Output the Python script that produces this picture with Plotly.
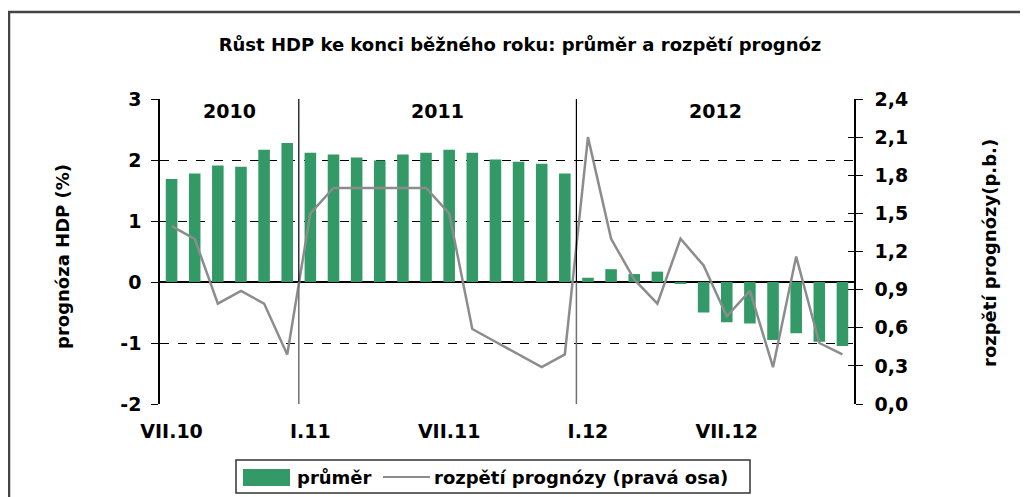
import plotly.graph_objects as go

# ---- data ----
months = list(range(30))  # VII.2010 ... XII.2012, monthly
tick_positions = [0, 6, 12, 18, 24]
tick_labels = ["VII.10", "I.11", "VII.11", "I.12", "VII.12"]
prumer = [1.69, 1.78, 1.91, 1.89, 2.17, 2.28,
          2.12, 2.09, 2.04, 1.99, 2.09, 2.12, 2.17, 2.12, 2.01, 1.97, 1.94, 1.78,
          0.07, 0.21, 0.13, 0.17, -0.03, -0.50, -0.66, -0.68, -0.95, -0.84, -0.98, -1.05]
rozpeti = [1.40, 1.30, 0.79, 0.89, 0.79, 0.39,
           1.50, 1.70, 1.70, 1.70, 1.70, 1.70, 1.50, 0.59, 0.49, 0.39, 0.29, 0.39,
           2.10, 1.30, 0.98, 0.79, 1.30, 1.09, 0.69, 0.89, 0.29, 1.16, 0.48, 0.39]
left_ticks = [3, 2, 1, 0, -1, -2]
left_tick_labels = ["3", "2", "1", "0", "-1", "-2"]
right_ticks = [0.0, 0.3, 0.6, 0.9, 1.2, 1.5, 1.8, 2.1, 2.4]
right_tick_labels = ["0,0", "0,3", "0,6", "0,9", "1,2", "1,5", "1,8", "2,1", "2,4"]
years = ["2010", "2011", "2012"]
year_centers = [2.5, 11.5, 23.5]
year_separators = [5.5, 17.5]

# page body has an 8px margin -> work in screen pixels and subtract it
OFF = 8
W, H = 1028 - OFF, 497 - OFF
SL, SR, ST, SB = 160, 854, 99, 404          # plot area in screen px
L, R, T, B = SL - OFF, SR - OFF, ST - OFF, SB - OFF
FONT = "DejaVu Sans"
GREEN = "#339966"
GRAY = "#8c8c8c"


def px(x):
    return (x - SL) / (SR - SL)


def py(y):
    return (SB - y) / (SB - ST)


fig = go.Figure()
fig.add_trace(go.Bar(x=months, y=prumer, marker=dict(color=GREEN, line=dict(width=0)),
                     width=0.5, name="průměr", yaxis="y"))
fig.add_trace(go.Scatter(x=months, y=rozpeti, mode="lines", line=dict(color=GRAY, width=2.5),
                         name="rozpětí prognózy (pravá osa)", yaxis="y2"))
fig.add_trace(go.Scatter(x=[None], y=[None], yaxis="y3", showlegend=False, hoverinfo="skip"))

shapes = []
for s in year_separators:
    shapes.append(dict(type="line", xref="x", yref="y", x0=s, x1=s, y0=0, y1=3,
                       line=dict(color="black", width=1.2)))
    shapes.append(dict(type="line", xref="x", yref="y", x0=s, x1=s, y0=-2.08, y1=0,
                       line=dict(color="#707070", width=1.5)))
# outer frame (left + top)
shapes.append(dict(type="line", xref="paper", yref="paper", x0=px(9), x1=px(9), y0=py(505), y1=py(12),
                   line=dict(color="#444444", width=2.5)))
shapes.append(dict(type="line", xref="paper", yref="paper", x0=px(8), x1=px(1036), y0=py(12), y1=py(12),
                   line=dict(color="#444444", width=2.5)))
# manual legend
shapes.append(dict(type="rect", xref="paper", yref="paper", x0=px(236), x1=px(750), y0=py(493), y1=py(460),
                   line=dict(color="#333333", width=1.5), fillcolor="white"))
shapes.append(dict(type="rect", xref="paper", yref="paper", x0=px(243), x1=px(290), y0=py(486), y1=py(469),
                   line=dict(width=0), fillcolor=GREEN))
shapes.append(dict(type="line", xref="paper", yref="paper", x0=px(383), x1=px(430), y0=py(477), y1=py(477),
                   line=dict(color=GRAY, width=2)))

bold = lambda size: dict(family=FONT, size=size, color="black", weight="bold")

annotations = []
for yr, c in zip(years, year_centers):
    annotations.append(dict(x=c, y=2.8, xref="x", yref="y", text=yr, showarrow=False,
                            xanchor="center", yanchor="middle", font=bold(19)))
annotations.append(dict(x=px(62), y=py(257), xref="paper", yref="paper", text="prognóza HDP (%)",
                        textangle=-90, showarrow=False, xanchor="center", yanchor="middle",
                        font=bold(18)))
annotations.append(dict(x=px(990), y=py(253), xref="paper", yref="paper", text="rozpětí prognózy(p.b.)",
                        textangle=-90, showarrow=False, xanchor="center", yanchor="middle",
                        font=bold(18)))
annotations.append(dict(x=px(295), y=py(477), xref="paper", yref="paper", text="průměr",
                        xanchor="left", yanchor="middle", showarrow=False, font=bold(18)))
annotations.append(dict(x=px(432), y=py(477), xref="paper", yref="paper",
                        text="rozpětí prognózy (pravá osa)",
                        xanchor="left", yanchor="middle", showarrow=False, font=bold(18)))

tickfont = bold(19)

fig.update_layout(
    width=W, height=H,
    margin=dict(l=L, r=W - R, t=T, b=H - B, pad=0),
    paper_bgcolor="white", plot_bgcolor="white",
    showlegend=False,
    title=dict(text="Růst HDP ke konci běžného roku: průměr a rozpětí prognóz",
               x=(520 - OFF) / W, xref="container", xanchor="center",
               y=1 - (45 - OFF) / H, yref="container", yanchor="middle",
               font=bold(18)),
    xaxis=dict(range=[-0.5, 29.5], tickvals=tick_positions, ticktext=tick_labels,
               showgrid=False, zeroline=False, showline=False, ticks="",
               tickfont=tickfont, ticklabelstandoff=14),
    yaxis=dict(range=[-2, 3], tickvals=left_ticks, ticktext=left_tick_labels,
               showgrid=True, gridcolor="black", griddash="dash", gridwidth=1,
               zeroline=True, zerolinecolor="black", zerolinewidth=1.5,
               showline=True, linecolor="black", linewidth=1.5,
               ticks="outside", ticklen=7, tickcolor="black", tickwidth=1.2,
               tickfont=tickfont, ticklabelstandoff=6),
    yaxis2=dict(range=[0, 2.4], tickvals=right_ticks, ticktext=right_tick_labels,
                overlaying="y", side="right", anchor="x",
                showgrid=False, zeroline=False,
                showline=True, linecolor="black", linewidth=1.5,
                ticks="outside", ticklen=7, tickcolor="black", tickwidth=1.2,
                tickfont=tickfont, ticklabelstandoff=8),
    yaxis3=dict(range=[0, 2.4], tickvals=right_ticks, overlaying="y", side="right", anchor="x",
                showgrid=False, zeroline=False, showline=False, showticklabels=False,
                ticks="inside", ticklen=6, tickcolor="black", tickwidth=1.2),
    shapes=shapes,
    annotations=annotations,
)

fig.write_html("out.html")
